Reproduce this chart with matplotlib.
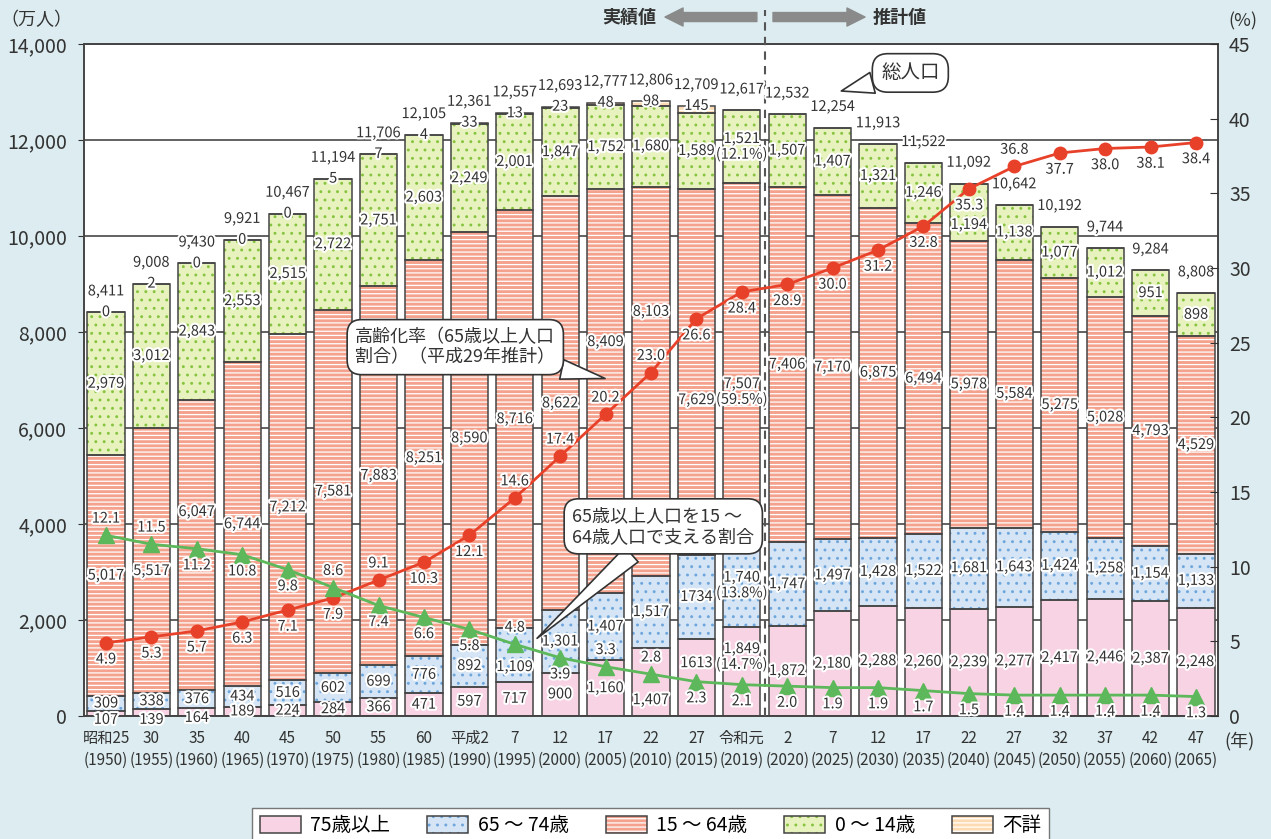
import matplotlib.pyplot as plt
import matplotlib.patheffects as pe
from matplotlib.patches import Patch, FancyArrowPatch
from matplotlib.legend_handler import HandlerTuple
from matplotlib.ticker import FuncFormatter

plt.rcParams['font.family'] = ['Noto Sans CJK JP', 'DejaVu Sans']
plt.rcParams['hatch.linewidth'] = 0.9

# ---- data (万人 / %) ----
era = ['昭和25', '30', '35', '40', '45', '50', '55', '60', '平成2', '7', '12', '17',
       '22', '27', '令和元', '2', '7', '12', '17', '22', '27', '32', '37', '42', '47']
years = [1950, 1955, 1960, 1965, 1970, 1975, 1980, 1985, 1990, 1995, 2000, 2005,
         2010, 2015, 2019, 2020, 2025, 2030, 2035, 2040, 2045, 2050, 2055, 2060, 2065]
age75 = [107, 139, 164, 189, 224, 284, 366, 471, 597, 717, 900, 1160, 1407, 1613,
         1849, 1872, 2180, 2288, 2260, 2239, 2277, 2417, 2446, 2387, 2248]
age65_74 = [309, 338, 376, 434, 516, 602, 699, 776, 892, 1109, 1301, 1407, 1517, 1734,
            1740, 1747, 1497, 1428, 1522, 1681, 1643, 1424, 1258, 1154, 1133]
age15_64 = [5017, 5517, 6047, 6744, 7212, 7581, 7883, 8251, 8590, 8716, 8622, 8409,
            8103, 7629, 7507, 7406, 7170, 6875, 6494, 5978, 5584, 5275, 5028, 4793, 4529]
age0_14 = [2979, 3012, 2843, 2553, 2515, 2722, 2751, 2603, 2249, 2001, 1847, 1752,
           1680, 1589, 1521, 1507, 1407, 1321, 1246, 1194, 1138, 1077, 1012, 951, 898]
unknown = [0, 2, 0, 0, 0, 5, 7, 4, 33, 13, 23, 48, 98, 145,
           0, 0, 0, 0, 0, 0, 0, 0, 0, 0, 0]
totals = [8411, 9008, 9430, 9921, 10467, 11194, 11706, 12105, 12361, 12557, 12693,
          12777, 12806, 12709, 12617, 12532, 12254, 11913, 11522, 11092, 10642,
          10192, 9744, 9284, 8808]
aging_rate = [4.9, 5.3, 5.7, 6.3, 7.1, 7.9, 9.1, 10.3, 12.1, 14.6, 17.4, 20.2, 23.0,
              26.6, 28.4, 28.9, 30.0, 31.2, 32.8, 35.3, 36.8, 37.7, 38.0, 38.1, 38.4]
support = [12.1, 11.5, 11.2, 10.8, 9.8, 8.6, 7.4, 6.6, 5.8, 4.8, 3.9, 3.3, 2.8, 2.3,
           2.1, 2.0, 1.9, 1.9, 1.7, 1.5, 1.4, 1.4, 1.4, 1.4, 1.3]
n_actual = 14  # bars with a 不詳 value shown

# labels that differ from plain formatting in the source
special = {('75', 13): '1613', ('65', 13): '1734',
           ('75', 14): '1,849\n(14.7%)', ('65', 14): '1,740\n(13.8%)',
           ('15', 14): '7,507\n(59.5%)', ('0', 14): '1,521\n(12.1%)'}
# segment labels moved off-centre (left-axis units) to dodge lines / neighbours
label_y = {('75', 0): -80, ('75', 1): -80, ('75', 2): -40,
           ('75', 12): 330, ('75', 13): 1100, ('75', 14): 1230, ('65', 9): 1020,
           ('15', 1): 3020, ('15', 2): 4250,
           ('15', 11): 7790, ('15', 12): 8420, ('15', 13): 6580, ('15', 14): 6750,
           ('0', 19): 10230}
# label above (a) or below (b) the marker
aging_side = 'bbbbbbabbaaaabbbbbbbabbbb'
support_side = 'aabbbabbbabaabbbbbbbbbbbb'

DARK = '#444444'
stroke = [pe.withStroke(linewidth=3, foreground='white')]

fig = plt.figure(figsize=(12.71, 8.39), dpi=100, facecolor='#dcecf0')
ax = fig.add_axes([0.0661, 0.1466, 0.8922, 0.801])
ax.set_facecolor('white')
x = list(range(len(years)))

layers = [
    ('75', age75, '#f8d3e4', None, None),
    ('65', age65_74, '#d5e5f5', '..', '#6ea6dc'),
    ('15', age15_64, '#f4a28d', '----', 'white'),
    ('0', age0_14, '#e8f2bf', '..', '#86c440'),
    ('u', unknown, '#fddbb2', '----', 'white'),
]
bottom = [0] * len(x)
for key, vals, fc, hatch, hc in layers:
    ax.bar(x, vals, width=0.82, bottom=bottom, color=fc, hatch=hatch,
           edgecolor=hc, linewidth=0, zorder=2)
    ax.bar(x, vals, width=0.82, bottom=bottom, fill=False, edgecolor=DARK,
           linewidth=1.1, zorder=3)
    for i, v in enumerate(vals):
        if key == 'u':
            if i < n_actual:
                ax.text(i, bottom[i] + v, f'{v:,}', ha='center', va='center',
                        fontsize=10.5, color='#333', path_effects=stroke, zorder=5)
            continue
        txt = special.get((key, i), f'{v:,}')
        yy = label_y.get((key, i), bottom[i] + v / 2)
        ax.text(i, yy, txt, ha='center', va='center', fontsize=10.5,
                color='#333', path_effects=stroke, zorder=5, linespacing=1.1,
                clip_on=False)
    bottom = [b + v for b, v in zip(bottom, vals)]

for i, t in enumerate(totals):
    ax.annotate(f'{t:,}', (i, t), xytext=(0, 15), textcoords='offset points',
                ha='center', va='center', fontsize=10.5, color='#333',
                path_effects=stroke, zorder=5)

ax.set_xlim(-0.485, 24.485)
ax.set_ylim(0, 14000)
ax.set_yticks(range(0, 14001, 2000))
ax.yaxis.set_major_formatter(FuncFormatter(lambda v, p: f'{int(v):,}'))
ax.yaxis.grid(True, color='#555555', linewidth=1.3)
ax.set_axisbelow(True)
ax.set_xticks(x)
ax.set_xticklabels([f'{e}\n({y})' for e, y in zip(era, years)], fontsize=11,
                   color='#333', linespacing=1.35)
ax.tick_params(axis='x', length=0, pad=10)
ax.tick_params(axis='y', labelsize=14, colors='#333', length=4, pad=8)
for s in ax.spines.values():
    s.set_color(DARK)
    s.set_linewidth(1.4)

# period divider
ax.axvline(14.5, ymin=0, ymax=1.05, clip_on=False, color='#555', lw=1.5,
           ls=(0, (4, 3)), zorder=4)

# ---- rate lines on right axis ----
ax2 = ax.twinx()
ax2.set_ylim(0, 45)
ax2.set_yticks(range(0, 46, 5))
ax2.tick_params(axis='y', labelsize=14, colors='#333', direction='in', length=6, pad=8)
for s in ax2.spines.values():
    s.set_visible(False)

ax2.plot(x, aging_rate, color='#e8412a', lw=2, marker='o', ms=9, zorder=6)
ax2.plot(x, support, color='#5cb85a', lw=2, marker='^', ms=11, zorder=6)
for i, v in enumerate(aging_rate):
    dy = 12 if aging_side[i] == 'a' else -12
    ax2.annotate(f'{v:.1f}', (i, v), xytext=(0, dy), textcoords='offset points',
                 ha='center', va='center', fontsize=10.5, color='#333',
                 path_effects=stroke, zorder=7)
for i, v in enumerate(support):
    dy = 12 if support_side[i] == 'a' else -12
    ax2.annotate(f'{v:.1f}', (i, v), xytext=(0, dy), textcoords='offset points',
                 ha='center', va='center', fontsize=10.5, color='#333',
                 path_effects=stroke, zorder=7)

# ---- callouts ----
box = dict(boxstyle='round,pad=0.45,rounding_size=0.8', fc='white', ec='#333', lw=1.2)
wedge = dict(arrowstyle='wedge,tail_width=1.1,shrink_factor=0.5', fc='white',
             ec='#333', lw=1.2, shrinkA=0, shrinkB=0)
ax2.annotate('高齢化率（65歳以上人口\n割合）（平成29年推計）', xy=(10.99, 22.6),
             xytext=(7.69, 24.7), ha='center', va='center', multialignment='left',
             fontsize=13, color='#333', bbox=box, arrowprops=wedge, zorder=8)
ax2.annotate('65歳以上人口を15 ～\n64歳人口で支える割合', xy=(9.49, 5.2),
             xytext=(12.27, 12.7), ha='center', va='center', multialignment='left',
             fontsize=13, color='#333', bbox=box, arrowprops=wedge, zorder=8)
ax2.annotate('総人口', xy=(16.19, 41.85), xytext=(17.71, 43.06), ha='center',
             va='center', fontsize=14, color='#333', bbox=box, arrowprops=wedge,
             zorder=8)

# ---- header & unit labels ----
fig.text(0.495, 0.9797, '実績値', ha='center', va='center', fontsize=13,
         fontweight='bold', color='#333')
fig.text(0.708, 0.9797, '推計値', ha='center', va='center', fontsize=13,
         fontweight='bold', color='#333')
arrow = dict(arrowstyle='simple,head_length=1.3,head_width=1.3,tail_width=0.65',
             color='#8a8a8a', mutation_scale=10, shrinkA=0, shrinkB=0)
fig.add_artist(FancyArrowPatch((0.5955, 0.9797), (0.5232, 0.9797),
                               transform=fig.transFigure, **arrow))
fig.add_artist(FancyArrowPatch((0.6082, 0.9797), (0.6806, 0.9797),
                               transform=fig.transFigure, **arrow))
fig.text(0.029, 0.976, '（万人）', ha='center', va='center', fontsize=13, color='#333')
fig.text(0.9775, 0.974, '(%)', ha='center', va='center', fontsize=13, color='#333')
fig.text(0.975, 0.117, '(年)', ha='center', va='center', fontsize=13, color='#333')

# ---- legend ----
names = ['75歳以上', '65 ～ 74歳', '15 ～ 64歳', '0 ～ 14歳', '不詳']
handles = []
for key, vals, fc, hatch, hc in layers:
    handles.append((Patch(facecolor=fc, hatch=hatch, edgecolor=hc, linewidth=0),
                    Patch(fill=False, edgecolor=DARK, linewidth=1.1)))
fig.legend(handles, names, loc='upper center', bbox_to_anchor=(0.512, 0.049),
           ncol=5, fontsize=14, handlelength=2.1, handleheight=1.0,
           columnspacing=1.9, handletextpad=0.5, fancybox=False, edgecolor='#777',
           framealpha=1, handler_map={tuple: HandlerTuple(ndivide=1)})

fig.savefig('out.png', dpi=100, facecolor=fig.get_facecolor())
